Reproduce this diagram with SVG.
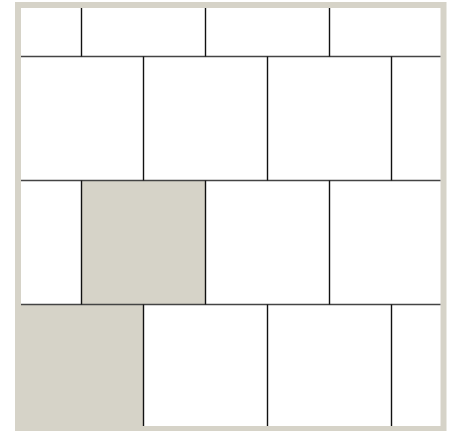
<svg xmlns="http://www.w3.org/2000/svg" width="450" height="431" viewBox="0 0 450 431">
<style>
.frame{fill:#ffffff;stroke:#d6d3c8;stroke-width:6}
.shade{fill:#d6d3c8}
.h{stroke:#444;stroke-width:1.4}
.v{stroke:#111;stroke-width:1.4}
</style>
<rect class="frame" x="18" y="5" width="425.5" height="424"/>
<g id="shaded-tiles">
<rect class="shade" x="81.5" y="180.5" width="124" height="124"/>
<rect class="shade" x="21" y="304.5" width="122.5" height="122"/>
</g>
<g id="joints">
<line class="h" x1="21" y1="56.5" x2="440.5" y2="56.5"/>
<line class="h" x1="21" y1="180.5" x2="440.5" y2="180.5"/>
<line class="h" x1="21" y1="304.5" x2="440.5" y2="304.5"/>
<line class="v" x1="81.5" y1="8" x2="81.5" y2="56.5"/>
<line class="v" x1="205.5" y1="8" x2="205.5" y2="56.5"/>
<line class="v" x1="329.5" y1="8" x2="329.5" y2="56.5"/>
<line class="v" x1="143.5" y1="56.5" x2="143.5" y2="180.5"/>
<line class="v" x1="267.5" y1="56.5" x2="267.5" y2="180.5"/>
<line class="v" x1="391.5" y1="56.5" x2="391.5" y2="180.5"/>
<line class="v" x1="81.5" y1="180.5" x2="81.5" y2="304.5"/>
<line class="v" x1="205.5" y1="180.5" x2="205.5" y2="304.5"/>
<line class="v" x1="329.5" y1="180.5" x2="329.5" y2="304.5"/>
<line class="v" x1="143.5" y1="304.5" x2="143.5" y2="426"/>
<line class="v" x1="267.5" y1="304.5" x2="267.5" y2="426"/>
<line class="v" x1="391.5" y1="304.5" x2="391.5" y2="426"/>
</g>
</svg>
